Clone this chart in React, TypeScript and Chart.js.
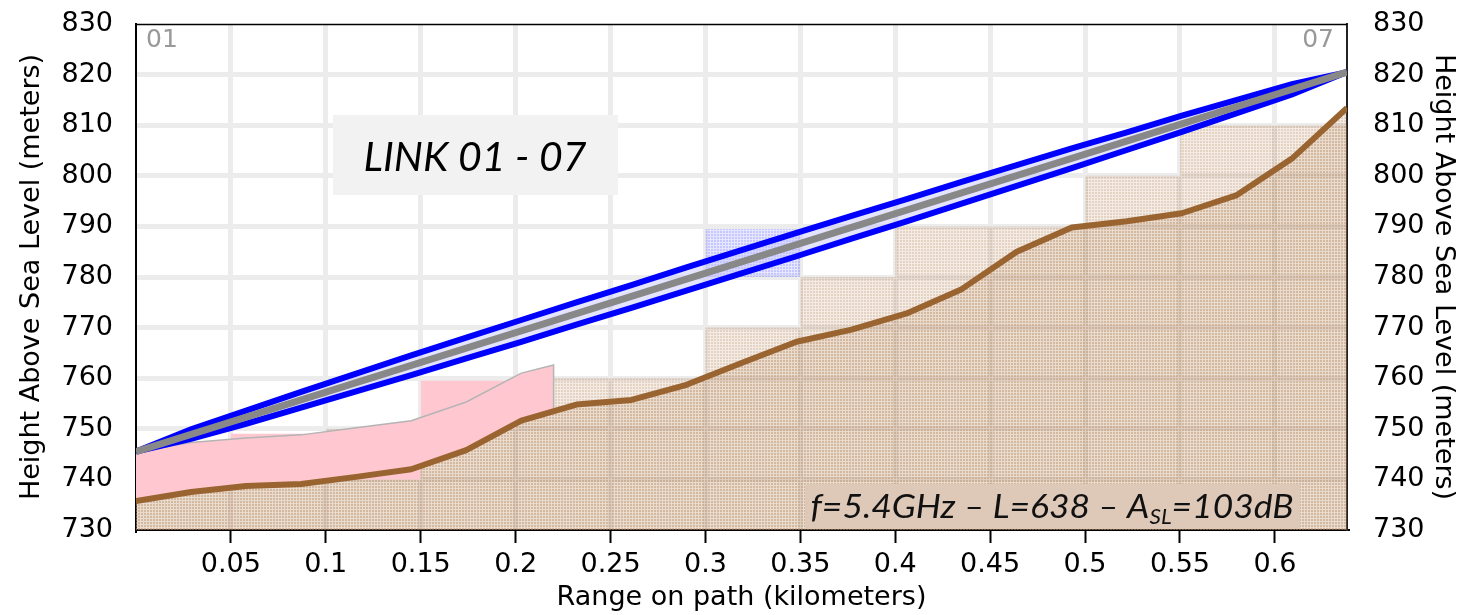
import React, { useEffect, useRef } from "react";
import { Chart, registerables } from "chart.js";

Chart.register(...registerables);

// ---- data ----
const pathKm = [0, 0.029, 0.058, 0.087, 0.116, 0.145, 0.174, 0.203, 0.232, 0.261, 0.29, 0.319, 0.348, 0.377, 0.406, 0.435, 0.464, 0.493, 0.522, 0.551, 0.58, 0.609, 0.638];
const terrainM = [735.7, 737.5, 738.7, 739.1, 740.5, 742.0, 745.8, 751.6, 754.8, 755.7, 758.7, 763.0, 767.2, 769.6, 772.8, 777.6, 785.0, 789.8, 791.0, 792.6, 796.2, 803.4, 813.4];

const binEdgesKm = [0, 0.05, 0.1, 0.15, 0.2, 0.25, 0.3, 0.35, 0.4, 0.45, 0.5, 0.55, 0.6, 0.638];
const binTopM = [740, 740, 740, 750, 750, 760, 760, 770, 780, 790, 790, 800, 810];

const clutterKm = [0, 0.029, 0.058, 0.087, 0.116, 0.145, 0.174, 0.203, 0.22, 0.22];
const clutterTopM = [745.5, 747.3, 748.2, 748.8, 750.2, 751.6, 755.3, 761.0, 762.6, 753.5];

const clutterBinStartKm = [0.05, 0.15];
const clutterBinEndKm = [0.15, 0.2];
const clutterBinBottomM = [740, 750];
const clutterBinTopM = [749, 759.5];

const losKm = [0, 0.638];
const losM = [745.5, 820.5];

const fresnelUpperM = [745.5, 749.9, 753.6, 757.3, 760.9, 764.5, 768.0, 771.5, 775.0, 778.4, 781.9, 785.3, 788.7, 792.1, 795.4, 798.8, 802.1, 805.4, 808.6, 811.9, 815.0, 818.1, 820.5];
const fresnelLowerM = [745.5, 748.0, 751.0, 754.2, 757.4, 760.6, 763.9, 767.2, 770.6, 773.9, 777.3, 780.7, 784.1, 787.6, 791.0, 794.5, 798.0, 801.5, 805.1, 808.7, 812.4, 816.1, 820.5];

const fresnelBinKm = [0.3, 0.35];
const fresnelBinBottomM = 780;
const fresnelBinTopM = 789.5;

const xTickValues = [0.05, 0.1, 0.15, 0.2, 0.25, 0.3, 0.35, 0.4, 0.45, 0.5, 0.55, 0.6];
const xTickLabels = ["0.05", "0.1", "0.15", "0.2", "0.25", "0.3", "0.35", "0.4", "0.45", "0.5", "0.55", "0.6"];

const siteLabels = ["01", "07"];
const linkTitle = "LINK 01 - 07";
const infoParts = ["f=5.4GHz – L=638 – A", "SL", "=103dB"];

function makePattern(r: number, g: number, b: number, aDark: number, aLight: number) {
  const c = document.createElement("canvas");
  c.width = 3;
  c.height = 3;
  const x = c.getContext("2d")!;
  for (let i = 0; i < 3; i++) {
    for (let j = 0; j < 3; j++) {
      const light = i === 2 || j === 2;
      x.fillStyle = `rgba(${r},${g},${b},${light ? aLight : aDark})`;
      x.fillRect(i, j, 1, 1);
    }
  }
  return x.createPattern(c, "repeat")!;
}

const overlayPlugin = {
  id: "overlay",
  afterDraw(chart: any) {
    const { ctx, chartArea: a } = chart;
    ctx.save();
    ctx.strokeStyle = "#000";
    ctx.lineWidth = 1.5;
    ctx.beginPath();
    ctx.moveTo(a.left, a.top + 0.5);
    ctx.lineTo(a.right, a.top + 0.5);
    ctx.stroke();

    ctx.fillStyle = "#999";
    ctx.font = '25px "DejaVu Sans"';
    ctx.textBaseline = "alphabetic";
    ctx.textAlign = "left";
    ctx.fillText(siteLabels[0], a.left + 10, a.top + 23);
    ctx.textAlign = "right";
    ctx.fillText(siteLabels[1], a.right - 13, a.top + 23);

    ctx.fillStyle = "#f2f2f2";
    ctx.fillRect(333, 115, 285, 80);
    ctx.fillStyle = "#000";
    ctx.font = "italic 41px Lato";
    ctx.textAlign = "center";
    ctx.fillText(linkTitle, 475, 171);

    ctx.fillStyle = "#dec8b8";
    ctx.fillRect(805, 484, 495, 45);
    const big = "italic 33px Lato";
    const small = "italic 21px Lato";
    ctx.font = big;
    const w0 = ctx.measureText(infoParts[0]).width;
    const w2 = ctx.measureText(infoParts[2]).width;
    ctx.font = small;
    const w1 = ctx.measureText(infoParts[1]).width;
    const total = w0 + w1 + w2;
    const target = 483;
    const sx = Math.max(0.85, Math.min(1.3, target / total));
    const startX = 1052 - (total * sx) / 2;
    ctx.translate(startX, 518);
    ctx.scale(sx, 1);
    ctx.textAlign = "left";
    ctx.fillStyle = "#111";
    ctx.font = big;
    ctx.fillText(infoParts[0], 0, 0);
    ctx.font = small;
    ctx.fillText(infoParts[1], w0, 6);
    ctx.font = big;
    ctx.fillText(infoParts[2], w0 + w1, 0);
    ctx.restore();
  },
};

export default function App() {
  const ref = useRef<HTMLCanvasElement | null>(null);

  useEffect(() => {
    if (!ref.current) return;
    const terrainPattern = makePattern(188, 144, 104, 0.4, 0.18);
    const terrainPattern2 = makePattern(188, 144, 104, 0.4, 0.18);
    const bluePattern = makePattern(80, 80, 255, 0.32, 0.14);

    const terrainPts = pathKm.map((x, i) => ({ x, y: terrainM[i] }));
    const binPts = binEdgesKm.map((x, i) => ({ x, y: binTopM[Math.min(i, binTopM.length - 1)] }));
    const clutterPts = clutterKm.map((x, i) => ({ x, y: clutterTopM[i] }));
    const upperPts = pathKm.map((x, i) => ({ x, y: fresnelUpperM[i] }));
    const lowerPts = pathKm.map((x, i) => ({ x, y: fresnelLowerM[i] }));
    const losPts = losKm.map((x, i) => ({ x, y: losM[i] }));

    const base = { pointRadius: 0, pointHoverRadius: 0, tension: 0 };

    const clutterBinSets = clutterBinStartKm.map((s, i) => ({
      ...base,
      data: [
        { x: s, y: clutterBinTopM[i] },
        { x: clutterBinEndKm[i], y: clutterBinTopM[i] },
      ],
      borderWidth: 0,
      borderColor: "rgba(0,0,0,0)",
      backgroundColor: "rgb(255,200,208)",
      fill: { value: clutterBinBottomM[i] },
      order: 7,
    }));

    const noPadY = (w: number) => (scale: any) => {
      scale.width = w;
      scale.paddingTop = 0;
      scale.paddingBottom = 0;
    };

    const chart = new Chart(ref.current, {
      type: "line",
      data: {
        datasets: [
          {
            ...base,
            data: terrainPts,
            borderColor: "#9a6431",
            borderWidth: 6,
            borderJoinStyle: "round",
            fill: false,
            order: 0,
          },
          {
            ...base,
            data: losPts,
            borderColor: "#888888",
            borderWidth: 7,
            fill: false,
            order: 1,
          },
          {
            ...base,
            data: upperPts,
            borderColor: "#0000ff",
            borderWidth: 6,
            backgroundColor: "rgba(195,195,255,0.45)",
            fill: 3,
            order: 3,
          },
          {
            ...base,
            data: lowerPts,
            borderColor: "#0000ff",
            borderWidth: 6,
            fill: false,
            order: 2,
          },
          {
            ...base,
            data: fresnelBinKm.map((x) => ({ x, y: fresnelBinTopM })),
            borderWidth: 0,
            borderColor: "rgba(0,0,0,0)",
            backgroundColor: bluePattern,
            fill: { value: fresnelBinBottomM },
            order: 5,
          },
          {
            ...base,
            data: clutterPts,
            borderColor: "#b4b4b4",
            borderWidth: 1.5,
            backgroundColor: "rgb(255,200,208)",
            fill: 0,
            order: 6,
          },
          ...clutterBinSets,
          {
            ...base,
            data: terrainPts,
            borderWidth: 0,
            borderColor: "rgba(0,0,0,0)",
            backgroundColor: terrainPattern,
            fill: "start",
            order: 8,
          },
          {
            ...base,
            data: binPts,
            stepped: "after",
            borderWidth: 0,
            borderColor: "rgba(0,0,0,0)",
            backgroundColor: terrainPattern2,
            fill: "start",
            order: 9,
          },
        ] as any,
      },
      options: {
        animation: false,
        responsive: false,
        devicePixelRatio: 1,
        events: [],
        layout: { padding: { top: 24, left: 0, right: 0, bottom: 0 } },
        plugins: {
          legend: { display: false },
          tooltip: { enabled: false },
        },
        scales: {
          x: {
            type: "linear",
            min: 0,
            max: 0.638,
            afterBuildTicks: (scale: any) => {
              scale.ticks = xTickValues.map((v) => ({ value: v }));
            },
            afterFit: (scale: any) => {
              scale.height = 85;
              scale.paddingLeft = 0;
              scale.paddingRight = 0;
            },
            ticks: {
              autoSkip: false,
              maxRotation: 0,
              minRotation: 0,
              padding: 6,
              color: "#000",
              font: { family: "DejaVu Sans", size: 27 },
              callback: (_v: any, i: number) => xTickLabels[i],
            },
            grid: {
              color: "#ececec",
              lineWidth: 5,
              drawTicks: true,
              tickLength: 13,
              tickColor: "#000",
              tickWidth: 2,
            },
            border: { display: true, color: "#000", width: 2 },
            title: {
              display: true,
              text: "Range on path (kilometers)",
              color: "#000",
              font: { family: "DejaVu Sans", size: 27 },
              padding: { top: 0, bottom: 1 },
            },
          },
          y: {
            type: "linear",
            position: "left",
            min: 730,
            max: 830,
            afterFit: noPadY(136),
            ticks: {
              stepSize: 10,
              padding: 23,
              color: "#000",
              font: { family: "DejaVu Sans", size: 27 },
              callback: (v: any) => String(v),
            },
            grid: {
              color: (c: any) =>
                c.tick && (c.tick.value === 730 || c.tick.value === 830) ? "rgba(0,0,0,0)" : "#ececec",
              lineWidth: 5,
              drawTicks: false,
            },
            border: { display: true, color: "#000", width: 2 },
            title: {
              display: true,
              text: "Height Above Sea Level (meters)",
              color: "#000",
              font: { family: "DejaVu Sans", size: 27 },
              padding: { top: 16, bottom: 0 },
            },
          },
          y2: {
            type: "linear",
            position: "right",
            min: 730,
            max: 830,
            afterFit: noPadY(114),
            ticks: {
              stepSize: 10,
              padding: 26,
              color: "#000",
              font: { family: "DejaVu Sans", size: 27 },
              callback: (v: any) => String(v),
            },
            grid: { display: false, drawTicks: false },
            border: { display: true, color: "#222", width: 2 },
            title: {
              display: true,
              text: "Height Above Sea Level (meters)",
              color: "#000",
              font: { family: "DejaVu Sans", size: 27 },
              padding: { top: 2, bottom: 0 },
            },
          },
        },
      } as any,
      plugins: [overlayPlugin],
    });
    return () => chart.destroy();
  }, []);

  return (
    <div style={{ position: "absolute", left: 0, top: 0, width: 1461, height: 615 }}>
      <canvas ref={ref} width={1461} height={615} style={{ display: "block" }} />
    </div>
  );
}
